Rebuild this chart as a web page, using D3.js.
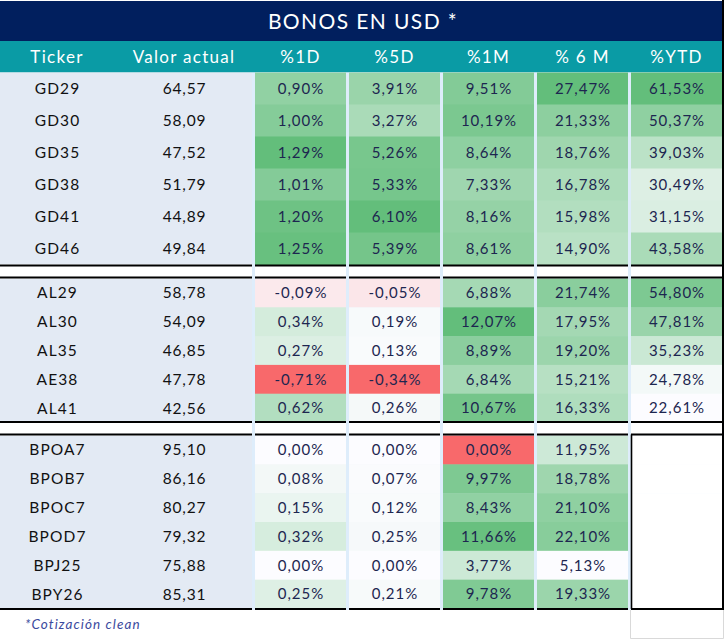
<!DOCTYPE html>
<html>
<head>
<meta charset="utf-8">
<script src="https://cdn.jsdelivr.net/npm/d3@7"></script>
<style>
  html, body { margin: 0; padding: 0; background: #ffffff; }
  svg { display: block; }
</style>
</head>
<body>
<svg id="chart" width="724" height="639"></svg>
<script>
// ---------------- DATA ----------------
const title = "BONOS EN USD *";
const footnote = "*Cotización clean";
const headers = ["Ticker", "Valor actual", "%1D", "%5D", "%1M", "% 6 M", "%YTD"];
const tickers = ["GD29","GD30","GD35","GD38","GD41","GD46",
                 "AL29","AL30","AL35","AE38","AL41",
                 "BPOA7","BPOB7","BPOC7","BPOD7","BPJ25","BPY26"];
const sectionOf = [0,0,0,0,0,0, 1,1,1,1,1, 2,2,2,2,2,2];
const valorActual = [64.57,58.09,47.52,51.79,44.89,49.84,
                     58.78,54.09,46.85,47.78,42.56,
                     95.10,86.16,80.27,79.32,75.88,85.31];
const pct1D = [0.90,1.00,1.29,1.01,1.20,1.25,
               -0.09,0.34,0.27,-0.71,0.62,
               0.00,0.08,0.15,0.32,0.00,0.25];
const pct5D = [3.91,3.27,5.26,5.33,6.10,5.39,
               -0.05,0.19,0.13,-0.34,0.26,
               0.00,0.07,0.12,0.25,0.00,0.21];
const pct1M = [9.51,10.19,8.64,7.33,8.16,8.61,
               6.88,12.07,8.89,6.84,10.67,
               0.00,9.97,8.43,11.66,3.77,9.78];
const pct6M = [27.47,21.33,18.76,16.78,15.98,14.90,
               21.74,17.95,19.20,15.21,16.33,
               11.95,18.78,21.10,22.10,5.13,19.33];
const pctYTD = [61.53,50.37,39.03,30.49,31.15,43.58,
                54.80,47.81,35.23,24.78,22.61,
                null,null,null,null,null,null];
// colour-scale kind per % column: "div" = min red / 0 white / max green, "seq" = min white / max green
const scaleKinds = ["div","div","div","seq","seq"];

// ---------------- SETUP ----------------
const pctSeries = [pct1D, pct5D, pct1M, pct6M, pctYTD];
const pctHeaders = headers.slice(2);
const svg = d3.select("#chart");
const FONT = "Lato, 'Noto Sans', sans-serif";

const NAVY = "#011f5e", TEAL = "#0a9ba5", LEFTBG = "#e3eaf4", SEP = "#deedfb";
const RED = "#f8696b", WHITE = "#fcfcff", GREEN = "#63be7b";
const TXT = "#1d2650";

const loc = d3.formatLocale({decimal: ",", thousands: ".", grouping: [3], currency: ["$", ""], minus: "-"});
const fmt2 = loc.format(".2f");

// columns
const xPct = d3.scaleBand().domain(pctHeaders).range([255, 722]).paddingInner(3 / 94).paddingOuter(0);
const xLeft = d3.scaleOrdinal().domain(["Ticker", "Valor actual"]).range([57, 184]);

// rows (three sections)
const secRanges = [[72.5, 264.5], [278.5, 422.5], [435.5, 608.5]];
const secIdx = [0, 1, 2].map(s => tickers.map((t, i) => i).filter(i => sectionOf[i] === s));
const ySec = secIdx.map((idx, s) => d3.scaleBand().domain(idx).range(secRanges[s]));
const yRow = i => ySec[sectionOf[i]](i);
const hRow = i => ySec[sectionOf[i]].bandwidth();

// colour scales per column
const colorScales = pctSeries.map((vals, c) => {
  const v = vals.filter(d => d != null);
  const mn = d3.min(v), mx = d3.max(v);
  if (scaleKinds[c] === "seq") {
    const s = d3.scaleLinear().domain([mn, mx]).range([WHITE, GREEN]).clamp(true);
    return d => s(d);
  }
  const s = d3.scaleLinear().domain([mn, 0, mx]).range([RED, WHITE, GREEN]).clamp(true);
  return d => (d === mn ? RED : s(d));
});

// ---------------- TITLE / HEADER ----------------
svg.append("rect").attr("x", 0).attr("y", 1).attr("width", 722).attr("height", 40).attr("fill", NAVY);
svg.append("text").attr("x", 363).attr("y", 28.5).attr("text-anchor", "middle")
  .attr("fill", "#ffffff").attr("font-family", FONT).attr("font-size", 21).attr("letter-spacing", 1.4)
  .text(title);

svg.append("rect").attr("x", 0).attr("y", 41).attr("width", 722).attr("height", 31.5).attr("fill", TEAL);
const hx = h => (pctHeaders.includes(h) ? xPct(h) + xPct.bandwidth() / 2 : xLeft(h));
svg.append("g").selectAll("text").data(headers).join("text")
  .attr("x", d => hx(d)).attr("y", 62.5).attr("text-anchor", "middle")
  .attr("fill", "#ffffff").attr("font-family", FONT).attr("font-size", 17).attr("letter-spacing", 1.3)
  .text(d => d);

// ---------------- BODY ----------------
// separator strips
svg.append("rect").attr("x", 252).attr("y", 72.5).attr("width", 470).attr("height", 537.5).attr("fill", SEP);
// left block backgrounds per section
svg.append("g").selectAll("rect").data(secRanges).join("rect")
  .attr("x", 0).attr("y", d => d[0]).attr("width", 252).attr("height", d => d[1] - d[0]).attr("fill", LEFTBG);
// white gaps between sections (in cells)
const gaps = [[264.5, 278.5], [422.5, 435.5]];
const cellXs = [[0, 252]].concat(pctHeaders.map(h => [xPct(h), xPct(h) + xPct.bandwidth()]));
gaps.forEach(g => {
  svg.append("g").selectAll("rect").data(cellXs).join("rect")
    .attr("x", d => d[0]).attr("y", g[0]).attr("width", d => d[1] - d[0]).attr("height", g[1] - g[0])
    .attr("fill", "#ffffff");
});

// heat cells
const cells = [];
pctSeries.forEach((vals, c) => vals.forEach((v, i) => cells.push({c, i, v})));
svg.append("g").selectAll("rect").data(cells).join("rect")
  .attr("x", d => xPct(pctHeaders[d.c])).attr("y", d => yRow(d.i))
  .attr("width", xPct.bandwidth()).attr("height", d => hRow(d.i) + 0.5)
  .attr("fill", d => (d.v == null ? "#ffffff" : colorScales[d.c](d.v)));

svg.append("g").selectAll("text").data(cells.filter(d => d.v != null)).join("text")
  .attr("x", d => xPct(pctHeaders[d.c]) + xPct.bandwidth() / 2 + 0.5)
  .attr("y", d => yRow(d.i) + hRow(d.i) / 2 + 5.3)
  .attr("text-anchor", "middle").attr("fill", TXT).attr("font-family", FONT).attr("font-size", 15)
  .attr("letter-spacing", 1)
  .text(d => fmt2(d.v) + "%");

// left columns text
svg.append("g").selectAll("text").data(tickers).join("text")
  .attr("x", xLeft("Ticker") + 0.5).attr("y", (d, i) => yRow(i) + hRow(i) / 2 + 5.5)
  .attr("text-anchor", "middle").attr("fill", "#111111").attr("font-family", FONT).attr("font-size", 15.5)
  .attr("letter-spacing", 1.1)
  .text(d => d);
svg.append("g").selectAll("text").data(valorActual).join("text")
  .attr("x", xLeft("Valor actual") + 0.5).attr("y", (d, i) => yRow(i) + hRow(i) / 2 + 5.5)
  .attr("text-anchor", "middle").attr("fill", "#111111").attr("font-family", FONT).attr("font-size", 15.5)
  .attr("letter-spacing", 0.8)
  .text(d => fmt2(d));

// black horizontal lines (segmented per cell)
const hLines = [265.5, 277.5, 422, 434.5, 609];
hLines.forEach(y => {
  svg.append("g").selectAll("line").data(cellXs).join("line")
    .attr("x1", d => d[0]).attr("x2", d => d[1]).attr("y1", y).attr("y2", y)
    .attr("stroke", "#000000").attr("stroke-width", 2.2);
});
// empty YTD box border
svg.append("line").attr("x1", xPct("%YTD") + 0.5).attr("x2", xPct("%YTD") + 0.5)
  .attr("y1", 434.5).attr("y2", 609).attr("stroke", "#000").attr("stroke-width", 1.6);
// right border
svg.append("line").attr("x1", 723).attr("x2", 723).attr("y1", 0).attr("y2", 610)
  .attr("stroke", "#000").attr("stroke-width", 2);
// faint grey box below
svg.append("path").attr("d", "M630.5,610 V638.5 H723.5 V610").attr("fill", "none")
  .attr("stroke", "#d9d9d9").attr("stroke-width", 1);

// footnote
svg.append("text").attr("x", 25).attr("y", 629).attr("fill", "#3b4a9e")
  .attr("font-family", FONT).attr("font-size", 13.5).attr("font-style", "italic").attr("letter-spacing", 1.1)
  .text(footnote);
</script>
</body>
</html>
